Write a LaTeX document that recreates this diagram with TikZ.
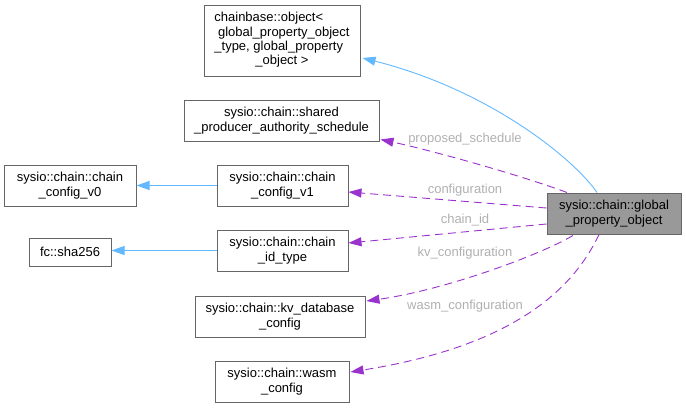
\documentclass[tikz,border=0pt]{standalone}
\usepackage{fontspec}
\setmainfont{Liberation Sans}
\usetikzlibrary{arrows.meta,calc}
\definecolor{edgeblue}{HTML}{63B8FF}
\definecolor{edgepurple}{HTML}{9A32CD}
\definecolor{lblgrey}{HTML}{B0B0B0}
\definecolor{boxborder}{HTML}{666666}
\definecolor{boxfill}{HTML}{999999}
\begin{document}
\begin{tikzpicture}[x=1pt,y=-1pt,
  every node/.style={font=\fontsize{13}{14.3}\selectfont},
  cls/.style={draw=boxborder,line width=1pt,fill=white,inner sep=0pt,align=center},
  current/.style={cls,fill=boxfill},
  inherit/.style={draw=edgeblue,line width=0.9pt,-{Triangle[length=13pt,width=9pt]}},
  usage/.style={draw=edgepurple,line width=0.9pt,dash pattern=on 8pt off 5pt,-{Triangle[length=13pt,width=9pt]}},
  lbl/.style={text=lblgrey,inner sep=0pt}]
\useasboundingbox (0,0) rectangle (686,408);

\node[cls,minimum width=156pt,minimum height=71pt] (chainbase) at (282,40.5)
  {\begin{tabular}{@{}l@{}}chainbase::object<\\ \ global\_property\_object\\ \_type, global\_property\\ \multicolumn{1}{@{}c@{}}{\_object >}\end{tabular}};
\node[cls,minimum width=195pt,minimum height=41pt] (shared) at (281.5,120.5)
  {sysio::chain::shared\\\_producer\_authority\_schedule};
\node[cls,minimum width=132pt,minimum height=41pt] (v0) at (70,185.5)
  {sysio::chain::chain\\\_config\_v0};
\node[cls,minimum width=131pt,minimum height=41pt] (v1) at (282.5,185.5)
  {sysio::chain::chain\\\_config\_v1};
\node[cls,minimum width=82pt,minimum height=28pt] (sha) at (70,252)
  {fc::sha256};
\node[cls,minimum width=131pt,minimum height=41pt] (cid) at (282.5,250.5)
  {sysio::chain::chain\\\_id\_type};
\node[cls,minimum width=170pt,minimum height=41pt] (kv) at (280,316.5)
  {sysio::chain::kv\_database\\\_config};
\node[cls,minimum width=134pt,minimum height=41pt] (wasm) at (282,381.5)
  {sysio::chain::wasm\\\_config};
\node[current,minimum width=134pt,minimum height=41pt] (global) at (614,213.5)
  {sysio::chain::global\\\_property\_object};

% inheritance
\draw[inherit] ($(global.north)+(-17,0)$) .. controls (575,160) and (490,90) .. ($(chainbase.east)+(2,17.5)$);
\draw[inherit] (v1.west) -- (v0.east);
\draw[inherit] (cid.west) -- (cid.west -| sha.east);

% usage
\draw[usage] ($(global.north)+(-47,0)$) .. controls (520,175) and (430,150) .. ($(shared.south east)+(1,-2)$);
\draw[usage] ($(global.west)+(0,-5.5)$) -- ($(v1.east)+(0,6.5)$);
\draw[usage] ($(global.west)+(0,10.5)$) -- ($(cid.east)+(0,-7.5)$);
\draw[usage] ($(global.south)+(-41,1)$) .. controls (540,255) and (445,290) .. ($(kv.east)+(1,-15.5)$);
\draw[usage] ($(global.south)+(-15,0)$) .. controls (575,285) and (520,345) .. ($(wasm.east)+(1,-9.5)$);

\node[lbl] (l1) at (465,139) {proposed\_schedule};
\node[lbl] (l2) at (465,190) {configuration};
\node[lbl] (l3) at (465,220) {chain\_id};
\node[lbl] (l4) at (465,253) {kv\_configuration};
\node[lbl] (l5) at (465,306) {wasm\_configuration};
\end{tikzpicture}
\end{document}
